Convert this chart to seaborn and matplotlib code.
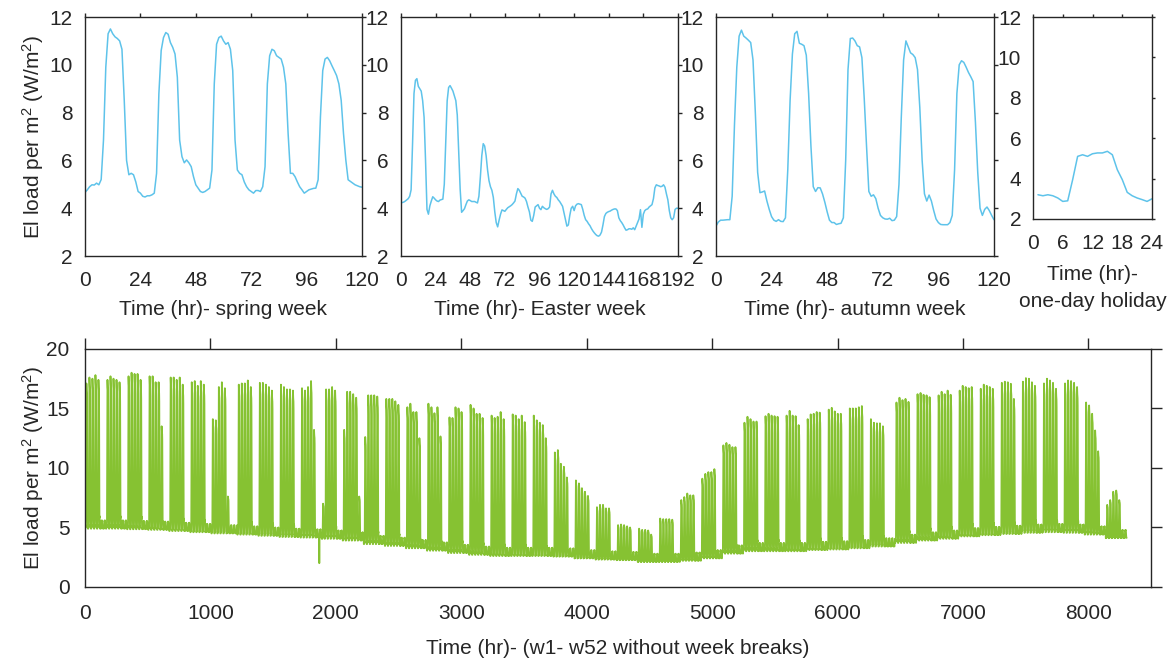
import numpy as np
import pandas as pd
import matplotlib
matplotlib.use("Agg")
import matplotlib.pyplot as plt
import seaborn as sns

# ---------------- data ----------------
spring_load = [4.66, 4.77, 4.9, 4.98, 4.97, 5.05, 4.98, 5.2, 6.85, 9.9,
               11.3, 11.5, 11.3, 11.17, 11.1, 11.0, 10.65, 8.5, 6.0, 5.4,
               5.46, 5.4, 5.1, 4.7, 4.63, 4.5, 4.47, 4.52, 4.52, 4.56,
               4.63, 5.46, 8.79, 10.6, 11.14, 11.35, 11.28, 10.93, 10.73, 10.45,
               9.48, 6.85, 6.16, 5.9, 6.02, 5.9, 5.74, 5.32, 4.98, 4.84,
               4.7, 4.66, 4.7, 4.77, 4.84, 5.6, 9.2, 10.86, 11.14, 11.2,
               11.0, 10.86, 10.93, 10.65, 9.76, 6.85, 5.6, 5.46, 5.4, 5.1,
               4.9, 4.77, 4.7, 4.63, 4.74, 4.74, 4.7, 4.9, 5.74, 9.2,
               10.38, 10.65, 10.59, 10.38, 10.31, 10.24, 9.9, 9.2, 7.12, 5.46,
               5.46, 5.32, 5.1, 4.9, 4.77, 4.63, 4.7, 4.77, 4.8, 4.83,
               4.84, 5.19, 7.82, 9.76, 10.24, 10.31, 10.17, 9.96, 9.76, 9.55,
               9.2, 8.51, 7.12, 6.02, 5.19, 5.12, 5.05, 4.98, 4.94, 4.9,
               4.88]

easter_load = [4.22, 4.24, 4.26, 4.3, 4.35, 4.4, 4.5, 4.77, 6.7, 8.8,
               9.35, 9.42, 9.1, 9.0, 8.9, 8.5, 7.8, 6.0, 3.95, 3.75,
               4.1, 4.3, 4.48, 4.42, 4.35, 4.3, 4.28, 4.34, 4.36, 4.38,
               5.0, 6.8, 8.5, 9.05, 9.13, 9.02, 8.9, 8.7, 8.5, 7.9,
               6.3, 4.8, 3.83, 3.9, 3.98, 4.15, 4.3, 4.35, 4.32, 4.28,
               4.28, 4.28, 4.25, 4.22, 4.5, 5.3, 6.2, 6.7, 6.6, 6.2,
               5.6, 5.15, 4.9, 4.75, 4.45, 3.85, 3.4, 3.22, 3.5, 3.75,
               3.93, 3.9, 3.87, 3.95, 4.02, 4.06, 4.1, 4.15, 4.22, 4.3,
               4.6, 4.82, 4.75, 4.62, 4.5, 4.47, 4.42, 4.28, 4.05, 3.85,
               3.5, 3.45, 3.7, 4.05, 4.1, 4.15, 4.0, 3.94, 4.08, 4.02,
               3.98, 3.95, 3.98, 4.05, 4.6, 4.75, 4.6, 4.5, 4.45, 4.35,
               4.28, 4.18, 4.08, 3.8, 3.5, 3.25, 3.3, 3.7, 4.0, 4.08,
               3.9, 4.1, 4.17, 4.19, 4.17, 4.15, 3.95, 3.7, 3.52, 3.45,
               3.35, 3.27, 3.15, 3.05, 2.97, 2.9, 2.85, 2.83, 2.88, 3.0,
               3.3, 3.65, 3.78, 3.83, 3.86, 3.88, 3.92, 3.95, 3.97, 3.97,
               3.9, 3.6, 3.48, 3.4, 3.3, 3.18, 3.08, 3.1, 3.14, 3.14,
               3.12, 3.18, 3.1, 3.25, 3.4, 3.55, 3.94, 3.2, 3.75, 3.9,
               3.95, 3.97, 4.05, 4.1, 4.15, 4.4, 4.85, 4.98, 4.95, 4.93,
               4.9, 4.92, 4.98, 4.88, 4.6, 4.35, 3.9, 3.6, 3.52, 3.6,
               3.95, 4.0, 4.0]

autumn_load = [3.25, 3.42, 3.5, 3.5, 3.51, 3.52, 3.52, 4.5, 7.5, 9.9,
               11.2, 11.45, 11.2, 11.12, 11.03, 10.93, 10.2, 8.0, 5.5, 4.65,
               4.68, 4.72, 4.3, 3.95, 3.65, 3.5, 3.45, 3.52, 3.45, 3.44,
               3.6, 5.6, 8.5, 10.45, 11.3, 11.4, 10.9, 10.86, 10.8, 10.4,
               8.8, 6.6, 4.9, 4.7, 4.86, 4.85, 4.6, 4.25, 3.85, 3.5,
               3.4, 3.4, 3.32, 3.35, 3.37, 3.6, 6.0, 9.8, 11.1, 11.12,
               11.0, 10.8, 10.75, 10.3, 8.6, 6.6, 4.7, 4.5, 4.56, 4.4,
               4.0, 3.7, 3.6, 3.55, 3.54, 3.58, 3.48, 3.5, 3.65, 5.0,
               7.8, 10.2, 11.0, 10.75, 10.5, 10.43, 10.3, 9.8, 8.2, 6.0,
               4.6, 4.3, 4.55, 4.3, 3.9, 3.55, 3.4, 3.32, 3.31, 3.31,
               3.31, 3.4, 3.7, 5.6, 8.8, 10.0, 10.17, 10.1, 9.9, 9.68,
               9.5, 9.3, 7.6, 5.5, 4.0, 3.7, 3.95, 4.05, 3.9, 3.7,
               3.52]

holiday_hours = list(range(1, 25))
holiday_load = [3.2, 3.15, 3.2, 3.15, 3.04, 2.87, 2.9, 3.95, 5.1, 5.18,
                5.1, 5.23, 5.27, 5.27, 5.35, 5.18, 4.44, 3.95, 3.32, 3.15,
                3.04, 2.96, 2.87, 3.0]

# Annual series: start hour of each working week, its five weekday peaks and
# its night base level (all read from the lower panel)
week_start = [0, 168, 336, 504, 672, 840, 1008,
              1215, 1383, 1551, 1719, 1887, 2055, 2223, 2391, 2559, 2727,
              2895, 3063, 3231, 3399, 3567, 3735, 3903, 4071, 4239, 4407,
              4575, 4743, 4911, 5079, 5247, 5415, 5583, 5751, 5919, 6087, 6255,
              6459, 6627, 6795, 6963, 7131, 7299, 7467, 7635, 7803, 7971, 8139]

weekday_peaks = [
    [17.1, 17.6, 17.5, 17.8, 17.4], [17.4, 17.7, 17.5, 17.4, 17.2],
    [17.7, 18.0, 17.9, 17.9, 17.4], [17.7, 17.7, 17.2, 17.2, 13.5],
    [17.6, 17.6, 17.4, 17.6, 17.0], [17.2, 17.3, 16.9, 17.3, 17.0],
    [14.1, 14.0, 16.8, 17.2, 16.7], [17.0, 17.1, 17.1, 17.35, 16.8],
    [17.15, 17.15, 17.0, 16.8, 16.5], [17.0, 16.8, 16.6, 16.6, 16.5],
    [16.7, 16.5, 16.8, 17.3, 13.2], [7.0, 16.6, 16.6, 16.8, 16.5],
    [13.2, 16.4, 16.4, 16.2, 15.9], [12.6, 16.1, 16.1, 16.1, 16.0],
    [15.8, 15.8, 15.8, 15.6, 15.3], [15.1, 15.4, 14.7, 14.7, 12.5],
    [15.4, 15.1, 14.6, 15.1, 12.65], [14.25, 14.2, 15.1, 15.0, 14.7],
    [15.3, 15.0, 14.55, 14.55, 14.2], [14.4, 14.2, 14.3, 14.7, 14.1],
    [14.5, 14.4, 14.1, 14.4, 13.85], [14.4, 14.0, 13.8, 13.6, 12.5],
    [11.3, 11.5, 10.35, 10.1, 9.2], [8.95, 8.7, 8.3, 8.0, 7.65],
    [6.7, 6.9, 6.9, 6.6, 6.6], [5.2, 5.25, 5.2, 5.1, 5.0],
    [4.9, 4.8, 4.8, 4.75, 4.4], [5.75, 5.7, 5.7, 5.7, 5.65],
    [7.3, 7.55, 7.85, 7.7, 7.7], [9.1, 9.5, 9.65, 9.65, 9.9],
    [11.9, 12.1, 11.95, 11.75, 11.75], [13.8, 14.3, 14.1, 13.9, 13.9],
    [14.35, 14.55, 14.4, 14.35, 14.3], [14.4, 14.8, 14.4, 14.35, 13.6],
    [14.1, 14.5, 14.55, 14.7, 14.65], [14.9, 15.05, 14.75, 14.55, 14.55],
    [15.0, 15.0, 15.0, 15.1, 15.2], [14.1, 13.8, 13.75, 13.75, 13.5],
    [15.5, 15.9, 15.7, 15.8, 15.55], [16.2, 16.3, 16.15, 16.1, 15.95],
    [16.1, 16.4, 16.2, 16.5, 16.15], [16.5, 16.9, 16.8, 16.7, 16.8],
    [16.65, 17.0, 16.9, 16.8, 16.65], [17.15, 17.25, 17.2, 17.07, 15.8],
    [17.25, 17.55, 17.5, 17.2, 16.9], [17.1, 17.5, 17.35, 17.15, 16.65],
    [17.1, 17.35, 17.3, 17.15, 16.8], [15.5, 15.25, 14.55, 13.15, 11.4],
    [6.9, 7.3, 8.0, 8.1, 7.3]]

week_base = [4.9, 4.9, 4.85, 4.8, 4.7, 4.6, 4.5, 4.4, 4.3, 4.2, 4.15, 4.05,
             3.9, 3.6, 3.45, 3.25, 3.05, 2.85, 2.7, 2.6, 2.6, 2.6, 2.55, 2.4,
             2.3, 2.25, 2.1, 2.1, 2.2, 2.4, 2.8, 3.0, 3.0, 3.0, 3.1, 3.15,
             3.25, 3.4, 3.7, 3.9, 4.05, 4.25, 4.35, 4.45, 4.55, 4.6, 4.55,
             4.4, 4.1]

weekend_bump = 0.7               # height of the daytime weekend bump
saturday_week = [6, 12]          # weeks (0-based) with a small Saturday peak
saturday_peak = [7.6, 7.6]
dip_hour = [1868]
dip_value = [2.0]
annual_end_hour = 8305

# ---------------- build hourly annual series ----------------
sp = np.array(spring_load[:24])
night = sp[:7].mean()
day_shape = np.clip((sp - night) / (sp.max() - night), 0, 1)
hol = np.array(holiday_load)
hol_shape = (hol - hol.min()) / (hol.max() - hol.min())
weekend_shape = np.roll(hol_shape, 1)  # holiday hours 1..24 -> hour-of-day

hours_all = np.arange(annual_end_hour + 1)
annual = np.zeros(len(hours_all))
for w, start in enumerate(week_start):
    stop = week_start[w + 1] if w + 1 < len(week_start) else len(hours_all)
    base = week_base[w]
    for h in range(start, min(stop, len(hours_all))):
        rel = h - start
        d, hod = rel // 24, rel % 24
        if d < 5:
            annual[h] = base + day_shape[hod] * (weekday_peaks[w][d] - base)
        elif d == 5 and w in saturday_week:
            pk = saturday_peak[saturday_week.index(w)]
            annual[h] = base + day_shape[hod] * (pk - base)
        else:
            annual[h] = base + weekend_bump * weekend_shape[hod]
for h, v in zip(dip_hour, dip_value):
    annual[h] = v
annual_df = pd.DataFrame({"hour": hours_all, "load": annual})

# ---------------- styling ----------------
sns.set_theme(style="white")
plt.rcParams['font.family'] = ['Liberation Sans', 'DejaVu Sans']
plt.rcParams['mathtext.default'] = 'regular'

BLUE = "#5EC3EA"
GREEN = "#86C232"
INK = "#262626"
FS = 15

fig = plt.figure(figsize=(11.76, 6.59), dpi=100)
fig.patch.set_facecolor("white")


def style(ax, tick_len, pad):
    for s in ax.spines.values():
        s.set_visible(True)
        s.set_color(INK)
        s.set_linewidth(1.0)
    ax.tick_params(direction='out', length=tick_len, width=1.0, top=True,
                   right=True, labelsize=FS, pad=pad, colors=INK,
                   labelcolor=INK)
    ax.set_facecolor("white")


top_rect = [(0.0723, 0.6115, 0.2355, 0.3627),
            (0.3410, 0.6115, 0.2355, 0.3627),
            (0.6088, 0.6115, 0.2364, 0.3627)]
panels = [(spring_load, 120, 24, "Time (hr)- spring week"),
          (easter_load, 192, 24, "Time (hr)- Easter week"),
          (autumn_load, 120, 24, "Time (hr)- autumn week")]
for i, (rect, (vals, xmax, step, lab)) in enumerate(zip(top_rect, panels)):
    ax = fig.add_axes(rect)
    sns.lineplot(x=list(range(len(vals))), y=vals, ax=ax, color=BLUE,
                 linewidth=1.1)
    ax.set_xlim(0, xmax)
    ax.set_ylim(2, 12)
    ax.set_xticks(range(0, xmax + 1, step))
    ax.set_yticks(range(2, 13, 2))
    style(ax, 3, 6)
    ax.tick_params(axis='x', pad=8)
    ax.set_xlabel(lab, fontsize=FS, color=INK, labelpad=7)
    if i == 0:
        ax.set_ylabel("El load per m$^2$ (W/m$^2$)", fontsize=FS, color=INK)
        ax.yaxis.set_label_coords(-0.141, 0.5)
    else:
        ax.set_ylabel("")

ax4 = fig.add_axes([0.8784, 0.6677, 0.1012, 0.3065])
sns.lineplot(x=holiday_hours, y=holiday_load, ax=ax4, color=BLUE,
             linewidth=1.1)
ax4.set_xlim(0, 24)
ax4.set_ylim(2, 12)
ax4.set_xticks(range(0, 25, 6))
ax4.set_yticks(range(2, 13, 2))
style(ax4, 2.5, 6)
ax4.tick_params(axis='x', pad=8)
ax4.set_xlabel("Time (hr)-\none-day holiday", fontsize=FS, color=INK,
               linespacing=1.5, labelpad=9)
ax4.set_ylabel("")

axb = fig.add_axes([0.0723, 0.1093, 0.9065, 0.3612])
sns.lineplot(data=annual_df, x="hour", y="load", ax=axb, color=GREEN,
             linewidth=1.3, estimator=None, sort=False)
axb.set_xlim(0, 8500)
axb.set_ylim(0, 20)
axb.set_xticks(range(0, 8001, 1000))
axb.set_yticks(range(0, 21, 5))
style(axb, 8, 3)
axb.tick_params(axis='x', pad=4)
axb.set_xlabel("Time (hr)- (w1- w52 without week breaks)", fontsize=FS,
               color=INK, labelpad=12)
axb.set_ylabel("El load per m$^2$ (W/m$^2$)", fontsize=FS, color=INK)
axb.yaxis.set_label_coords(-0.0366, 0.5)

fig.savefig("out.png", dpi=100, facecolor="white")
